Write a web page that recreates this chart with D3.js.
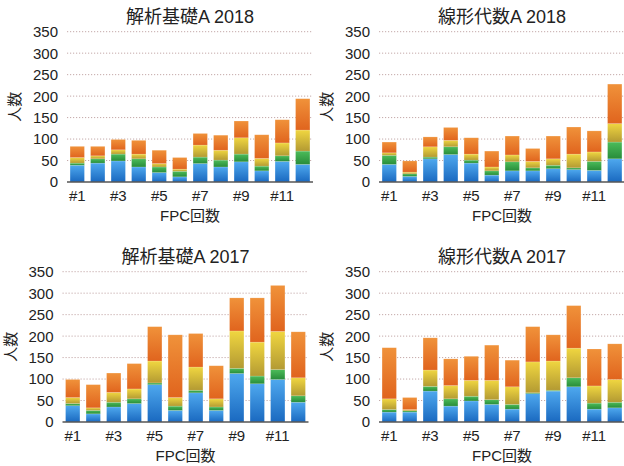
<!DOCTYPE html>
<html>
<head>
<meta charset="utf-8">
<script src="https://cdn.jsdelivr.net/npm/d3@7"></script>
<style>
  body { margin: 0; background: #fff; }
  text { font-family: "Liberation Sans", "Noto Sans CJK JP", sans-serif; fill: #222; }
</style>
</head>
<body>
<svg id="chart" width="624" height="466"></svg>
<script>
// rounds (x categories)
const categories = ['#1', '#2', '#3', '#4', '#5', '#6', '#7', '#8', '#9', '#10', '#11', '#12'];
const yTicks = [0, 50, 100, 150, 200, 250, 300, 350];
const seriesKeys = ['s1', 's2', 's3', 's4'];  // blue, green, yellow, orange

// each panel: [blue, green, yellow, orange] counts per round
const kaiseki2018 = [
  [39, 44, 49, 35, 22, 12, 43, 35, 47, 26, 48, 41],
  [5, 10, 16, 19, 13, 13, 15, 16, 18, 11, 13, 31],
  [13, 7, 10, 11, 8, 5, 28, 23, 38, 18, 30, 49],
  [26, 22, 24, 32, 31, 27, 27, 35, 39, 55, 54, 73]
];
const senkei2018 = [
  [41, 13, 54, 64, 44, 16, 26, 26, 31, 29, 27, 54],
  [21, 6, 4, 18, 7, 10, 21, 7, 8, 4, 21, 39],
  [6, 4, 24, 15, 14, 9, 16, 15, 15, 32, 22, 43],
  [25, 26, 23, 30, 38, 37, 44, 30, 53, 63, 49, 92]
];
const kaiseki2017 = [
  [38, 19, 35, 43, 87, 27, 68, 27, 113, 89, 99, 46],
  [5, 8, 11, 11, 4, 10, 6, 8, 12, 18, 23, 15],
  [14, 6, 23, 23, 51, 20, 54, 19, 87, 79, 89, 42],
  [42, 54, 45, 59, 80, 146, 78, 77, 77, 103, 107, 107]
];
const senkei2017 = [
  [23, 23, 72, 37, 49, 41, 30, 66, 72, 82, 30, 33],
  [6, 3, 11, 17, 11, 11, 11, 2, 2, 21, 14, 13],
  [25, 3, 38, 31, 37, 45, 41, 72, 68, 69, 40, 53],
  [119, 28, 75, 62, 56, 82, 62, 82, 61, 99, 86, 83]
];

const panels = [
  {title: '解析基礎A 2018', data: kaiseki2018, ox: 0, oy: 0},
  {title: '線形代数A 2018', data: senkei2018, ox: 312, oy: 0},
  {title: '解析基礎A 2017', data: kaiseki2017, ox: -4.5, oy: 240},
  {title: '線形代数A 2017', data: senkei2017, ox: 312, oy: 240}
];

const svg = d3.select('#chart');

// vertical gradients per series, darker at the bottom
const gradColors = [
  ['#4ea8ee', '#1a69c0'],
  ['#4cbc5a', '#288c3a'],
  ['#f0d640', '#b39a33'],
  ['#f0923a', '#e0641e']
];
const defs = svg.append('defs');
gradColors.forEach((c, i) => {
  const g = defs.append('linearGradient')
    .attr('id', 'grad' + i)
    .attr('x1', 0).attr('y1', 0).attr('x2', 0).attr('y2', 1);
  g.append('stop').attr('offset', '0%').attr('stop-color', c[0]);
  g.append('stop').attr('offset', '100%').attr('stop-color', c[1]);
});

const plotLeft = 67, plotRight = 313, plotTop = 31.7, plotBottom = 182;

const x = d3.scaleBand()
  .domain(categories)
  .range([plotLeft, plotRight])
  .paddingInner(0.3)
  .paddingOuter(0.15);

const y = d3.scaleLinear()
  .domain([0, 350])
  .range([plotBottom, plotTop]);

panels.forEach(p => {
  const g = svg.append('g').attr('transform', `translate(${p.ox},${p.oy})`);

  const table = categories.map((c, i) => {
    const row = {cat: c};
    seriesKeys.forEach((k, j) => { row[k] = p.data[j][i]; });
    return row;
  });
  const stacked = d3.stack().keys(seriesKeys)(table);

  // grid
  g.append('g')
    .selectAll('line')
    .data(yTicks.filter(t => t > 0))
    .enter()
    .append('line')
    .attr('x1', plotLeft).attr('x2', plotRight)
    .attr('y1', t => y(t)).attr('y2', t => y(t))
    .attr('stroke', '#c4a9a9')
    .attr('stroke-width', 1)
    .attr('stroke-dasharray', '1.2,1.8');

  // y tick labels
  g.append('g')
    .selectAll('text')
    .data(yTicks)
    .enter()
    .append('text')
    .attr('x', plotLeft - 9)
    .attr('y', t => y(t))
    .attr('dy', '0.36em')
    .attr('text-anchor', 'end')
    .style('font-size', '15px')
    .text(t => t);

  // bars
  g.append('g')
    .selectAll('g')
    .data(stacked)
    .enter()
    .append('g')
    .attr('fill', (s, i) => `url(#grad${i})`)
    .selectAll('rect')
    .data(s => s)
    .enter()
    .append('rect')
    .attr('x', d => x(d.data.cat))
    .attr('width', x.bandwidth())
    .attr('y', d => y(d[1]))
    .attr('height', d => y(d[0]) - y(d[1]))
    .attr('stroke', 'rgba(255,255,255,0.25)')
    .attr('stroke-width', 0.6);

  // baseline
  g.append('line')
    .attr('x1', plotLeft).attr('x2', plotRight)
    .attr('y1', plotBottom).attr('y2', plotBottom)
    .attr('stroke', '#555')
    .attr('stroke-width', 1.5);

  // x tick labels, odd rounds only
  g.append('g')
    .selectAll('text')
    .data(categories.filter((c, i) => i % 2 === 0))
    .enter()
    .append('text')
    .attr('x', c => x(c) + x.bandwidth() / 2)
    .attr('y', 201)
    .attr('text-anchor', 'middle')
    .style('font-size', '15px')
    .text(c => c);

  g.append('text')
    .attr('x', 190)
    .attr('y', 221)
    .attr('text-anchor', 'middle')
    .style('font-size', '15px')
    .text('FPC回数');

  g.append('text')
    .attr('transform', `translate(20,${(plotTop + plotBottom) / 2}) rotate(-90)`)
    .attr('text-anchor', 'middle')
    .style('font-size', '15px')
    .text('人数');

  g.append('text')
    .attr('x', 190)
    .attr('y', 22.5)
    .attr('text-anchor', 'middle')
    .style('font-size', '18px')
    .text(p.title);
});
</script>
</body>
</html>
